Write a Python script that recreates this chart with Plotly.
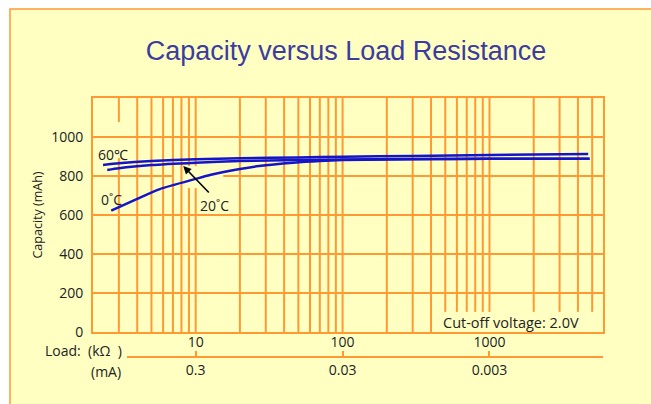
import numpy as np
import plotly.graph_objects as go

# ---------------- data ----------------
load_60 = [2.34, 3, 5, 10, 20, 50, 100, 300, 1000, 4700]
cap_60 = [856, 865, 877, 886, 891, 895, 899, 903, 908, 913]

load_20 = [2.5, 3, 5, 10, 20, 50, 100, 300, 1000, 4800]
cap_20 = [831, 840, 856, 868, 877, 882, 885, 887, 888, 889]

load_0 = [2.66, 4, 5.7, 10, 12.5, 20, 27, 46, 70, 100, 200, 1000, 4800]
cap_0 = [622, 683, 733, 785, 805, 836, 851, 868, 877, 882, 885, 888, 889]

load_ticks = [10, 100, 1000]
load_tick_labels = ["10", "100", "1000"]
current_tick_labels = ["0.3", "0.03", "0.003"]
cap_ticks = [0, 200, 400, 600, 800, 1000]

x_min, x_max = 2, 5925
y_min, y_max = 0, 1200

v_grid = [3, 4, 5, 6, 7, 8, 9, 10, 20, 30, 40, 50, 60, 70, 80, 90, 100,
          200, 300, 400, 500, 600, 700, 800, 900, 1000, 2000, 3000, 4000, 5000]
h_grid = [200, 400, 600, 800, 1000]

# grid segments interrupted around labels
v_segments = {3: [(0, 892), (1077, 1200)],
              9: [(0, 738), (851, 1200)],
              10: [(0, 738), (851, 1200)]}
for v in [500, 600, 700, 800, 900, 1000, 2000, 3000, 4000, 5000]:
    v_segments[v] = [(103, 1200)]
h_segments = {800: [(2, 6.9), (15.4, 5925)]}

ORANGE = "#FF9933"
BLUE = "#1414C8"
FONT = "Open Sans"

gx, gy = [], []
for v in v_grid:
    for a, b in v_segments.get(v, [(y_min, y_max)]):
        gx += [v, v, None]
        gy += [a, b, None]
for h in h_grid:
    for a, b in h_segments.get(h, [(x_min, x_max)]):
        gx += [a, b, None]
        gy += [h, h, None]

fig = go.Figure()
fig.add_trace(go.Scatter(x=gx, y=gy, mode="lines",
                         line=dict(color=ORANGE, width=2),
                         hoverinfo="skip", showlegend=False))
for xs, ys in [(load_60, cap_60), (load_20, cap_20), (load_0, cap_0)]:
    fig.add_trace(go.Scatter(x=xs, y=ys, mode="lines",
                             line=dict(color=BLUE, width=2.5, shape="spline", smoothing=0.6),
                             showlegend=False))
# dummy trace to create the secondary (mA) axis
fig.add_trace(go.Scatter(x=[10], y=[-100], xaxis="x2", yaxis="y", mode="markers",
                         marker=dict(opacity=0), showlegend=False, hoverinfo="skip"))

r0, r1 = np.log10(x_min), np.log10(x_max)
f = (127 - 93) / 510

fig.update_layout(
    width=651, height=404,
    margin=dict(l=93, r=48, t=98, b=47),
    paper_bgcolor="white",
    plot_bgcolor="rgba(0,0,0,0)",
    title=dict(text="Capacity versus Load Resistance",
               font=dict(family="Liberation Sans, Arial", size=27, color="#3C3CA0"),
               x=346 / 651, xref="container", xanchor="center",
               y=1 - 51 / 404, yref="container", yanchor="middle"),
    xaxis=dict(type="log", range=[r0, r1], domain=[0, 1], anchor="y",
               tickvals=load_ticks, ticktext=load_tick_labels,
               ticks="", ticklabelstandoff=-4,
               showgrid=False, zeroline=False,
               showline=True, mirror=True, linecolor=ORANGE, linewidth=2,
               tickfont=dict(family=FONT, size=14, color="#222")),
    xaxis2=dict(type="log", range=[r0 + f * (r1 - r0), r1], domain=[f, 1],
                anchor="free", position=0,
                tickvals=load_ticks + [5915], ticktext=current_tick_labels + [""],
                ticks="inside", ticklen=5, tickwidth=2, tickcolor=ORANGE,
                showgrid=False, zeroline=False,
                showline=True, linecolor=ORANGE, linewidth=2,
                tickfont=dict(family=FONT, size=14, color="#222")),
    yaxis=dict(range=[y_min, y_max], domain=[25 / 259, 1], anchor="x",
               tickvals=cap_ticks, ticks="outside", ticklen=5, tickcolor="rgba(0,0,0,0)",
               showgrid=False, zeroline=False,
               showline=True, mirror=True, linecolor=ORANGE, linewidth=2,
               tickfont=dict(family=FONT, size=14, color="#222"),
               title=dict(text="Capacity (mAh)", standoff=6,
                          font=dict(family=FONT, size=12.5, color="#222"))),
    shapes=[dict(type="rect", xref="paper", yref="paper", layer="below",
                 x0=(10 - 93) / 510, x1=(670 - 93) / 510,
                 y0=(357 - 420) / 259, y1=(357 - 9) / 259,
                 fillcolor="#FFFFC2", line=dict(color=ORANGE, width=1.5))],
)

ann_font = dict(family=FONT, size=14, color="#222")
fig.add_annotation(x=np.log10(2.74), y=908, xref="x", yref="y", text="60℃",
                   showarrow=False, font=ann_font)
fig.add_annotation(x=np.log10(2.67), y=682, xref="x", yref="y", text="0˚C",
                   showarrow=False, font=ann_font)
fig.add_annotation(x=np.log10(13.5), y=651, xref="x", yref="y", text="20˚C",
                   showarrow=False, font=ann_font)
fig.add_annotation(x=np.log10(8.23), y=851, xref="x", yref="y", text="",
                   showarrow=True, ax=27, ay=28, arrowhead=2, arrowsize=1,
                   arrowwidth=1.6, arrowcolor="black")
fig.add_annotation(x=np.log10(1403), y=48, xref="x", yref="y",
                   text="Cut-off voltage: 2.0V", showarrow=False,
                   font=dict(family=FONT, size=14.5, color="#222"))
fig.add_annotation(x=(42.7 - 93) / 510, y=(357 - 350) / 259, xref="paper", yref="paper",
                   xanchor="left", yanchor="middle", text="Load:  (kΩ  )",
                   showarrow=False, font=ann_font)
fig.add_annotation(x=(89 - 93) / 510, y=(357 - 371) / 259, xref="paper", yref="paper",
                   xanchor="left", yanchor="middle", text="(mA)",
                   showarrow=False, font=ann_font)

fig.write_html("out.html", config={"displayModeBar": False},
               post_script="document.body.style.margin='0px';document.body.style.overflow='hidden';")
